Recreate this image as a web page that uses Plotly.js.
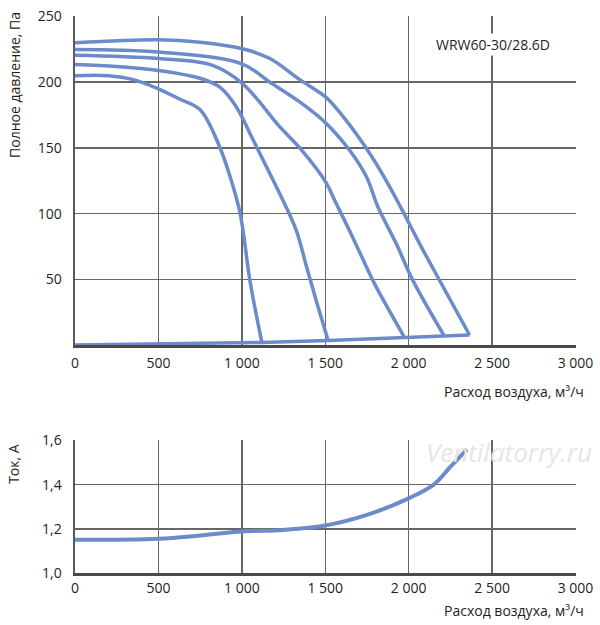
<!DOCTYPE html>
<html>
<head>
<meta charset="utf-8">
<script src="https://cdn.plot.ly/plotly-3.0.1.min.js"></script>
<style>
  html, body { margin: 0; padding: 0; background: #fff; }
  #chart { width: 600px; height: 625px; }
</style>
</head>
<body>
<div id="chart"></div>
<script>
// pressure curves, Па vs м³/ч
const curve1X = [0, 200, 350, 500, 630, 750, 860, 930, 990, 1050, 1120];
const curve1Y = [205, 205, 202, 195, 187, 179, 153, 128, 100, 48, 2];
const curve2X = [0, 250, 500, 750, 870, 968, 1068, 1150, 1247, 1327, 1387, 1450, 1517];
const curve2Y = [213.5, 212, 209, 203, 196, 181, 156, 135, 110, 87, 60, 32, 3.5];
const curve3X = [0, 500, 820, 1004, 1228, 1347, 1503, 1557, 1657, 1786, 1836, 1976];
const curve3Y = [220.5, 218, 213, 199, 166, 150, 124, 110, 84, 49, 37, 5.5];
const curve4X = [0, 500, 1000, 1168, 1347, 1503, 1647, 1747, 1816, 1926, 2026, 2216];
const curve4Y = [225, 223, 214, 200, 185, 169, 148, 128, 105, 77, 49, 6.3];
const curve5X = [0, 500, 750, 1004, 1168, 1347, 1503, 1587, 1747, 1866, 1960, 2066, 2186, 2365];
const curve5Y = [230, 232.3, 230.5, 225.5, 218, 202, 188.7, 177, 149.5, 125, 103, 77, 49, 7.6];
// line through the curve ends
const endLineX = [0, 1120, 1517, 1976, 2216, 2365];
const endLineY = [0, 2, 3.5, 5.5, 6.3, 7.6];

// current, А
const currentX = [0, 500, 750, 1000, 1250, 1500, 1750, 2000, 2150, 2250, 2350];
const currentY = [1.15, 1.155, 1.17, 1.188, 1.195, 1.215, 1.263, 1.338, 1.40, 1.48, 1.56];

const flowTicks = [0, 500, 1000, 1500, 2000, 2500, 3000];
const flowLabels = ['0', '500', '1 000', '1 500', '2 000', '2 500', '3 000'];
const pressureTicks = [50, 100, 150, 200, 250];
const currentTicks = [1.0, 1.2, 1.4, 1.6];
const currentLabels = ['1,0', '1,2', '1,4', '1,6'];

const lineColor = '#6b8bcb';
const gridColor = '#666666';
const textColor = '#231f20';
const font = 'Open Sans, sans-serif';

let curvesX = [curve1X, curve2X, curve3X, curve4X, curve5X];
let curvesY = [curve1Y, curve2Y, curve3Y, curve4Y, curve5Y];

let data = [];
for (let i = 0; i < curvesX.length; i++) {
  data.push({
    x: curvesX[i],
    y: curvesY[i],
    xaxis: 'x',
    yaxis: 'y',
    mode: 'lines',
    line: {color: lineColor, width: 3.5, shape: 'spline', smoothing: 1}
  });
}
data.push({
  x: endLineX,
  y: endLineY,
  xaxis: 'x',
  yaxis: 'y',
  mode: 'lines',
  line: {color: lineColor, width: 3.5}
});
data.push({
  x: currentX,
  y: currentY,
  xaxis: 'x2',
  yaxis: 'y2',
  mode: 'lines',
  line: {color: lineColor, width: 4, shape: 'spline', smoothing: 1}
});

let xCommon = {
  range: [0, 3003],
  tickvals: flowTicks,
  ticktext: flowLabels,
  showgrid: true,
  gridcolor: gridColor,
  gridwidth: 1.5,
  zeroline: false,
  showline: true,
  linecolor: '#4a4a4a',
  linewidth: 3,
  ticks: '',
  tickfont: {family: font, size: 14, color: textColor}
};
let yCommon = {
  showgrid: true,
  gridcolor: gridColor,
  gridwidth: 1.5,
  zeroline: false,
  showline: true,
  linecolor: '#5a5a5a',
  linewidth: 2.5,
  ticks: '',
  ticklabelstandoff: 8,
  tickfont: {family: font, size: 14, color: textColor}
};

let layout = {
  width: 600,
  height: 625,
  margin: {l: 75, r: 24, t: 16, b: 52},
  paper_bgcolor: '#fff',
  plot_bgcolor: '#fff',
  showlegend: false,
  xaxis: Object.assign({}, xCommon, {anchor: 'y', domain: [0, 1], ticklabelstandoff: 3}),
  yaxis: Object.assign({}, yCommon, {anchor: 'x', domain: [0.4093, 1], range: [0, 250.4], tickvals: pressureTicks}),
  xaxis2: Object.assign({}, xCommon, {anchor: 'y2', domain: [0, 1], ticklabelstandoff: 0}),
  yaxis2: Object.assign({}, yCommon, {anchor: 'x2', domain: [0, 0.2388], range: [1.0, 1.602],
    tickvals: currentTicks, ticktext: currentLabels}),
  annotations: [
    {text: 'WRW60-30/28.6D', xref: 'paper', yref: 'paper', x: 0.834, y: 0.948,
      xanchor: 'center', yanchor: 'middle', showarrow: false, bgcolor: '#fff',
      font: {family: font, size: 14, color: textColor}},
    {text: 'Расход воздуха, м³/ч', xref: 'paper', yref: 'paper', x: 1.02, y: 0.325,
      xanchor: 'right', yanchor: 'middle', showarrow: false,
      font: {family: font, size: 14, color: textColor}},
    {text: 'Расход воздуха, м³/ч', xref: 'paper', yref: 'paper', x: 1.02, y: -0.0675,
      xanchor: 'right', yanchor: 'middle', showarrow: false,
      font: {family: font, size: 14, color: textColor}},
    {text: 'Полное давление, Па', xref: 'paper', yref: 'paper', x: -0.122, y: 0.876,
      xanchor: 'center', yanchor: 'middle', textangle: -90, showarrow: false,
      font: {family: font, size: 14, color: textColor}},
    {text: 'Ток, А', xref: 'paper', yref: 'paper', x: -0.122, y: 0.1957,
      xanchor: 'center', yanchor: 'middle', textangle: -90, showarrow: false,
      font: {family: font, size: 14, color: textColor}},
    {text: '<i>Ventilatorry.ru</i>', xref: 'paper', yref: 'paper', x: 0.866, y: 0.217,
      xanchor: 'center', yanchor: 'middle', showarrow: false,
      font: {family: font, size: 26, color: '#e6e6e6'}}
  ]
};

Plotly.newPlot('chart', data, layout, {displayModeBar: false, staticPlot: true});
</script>
</body>
</html>
